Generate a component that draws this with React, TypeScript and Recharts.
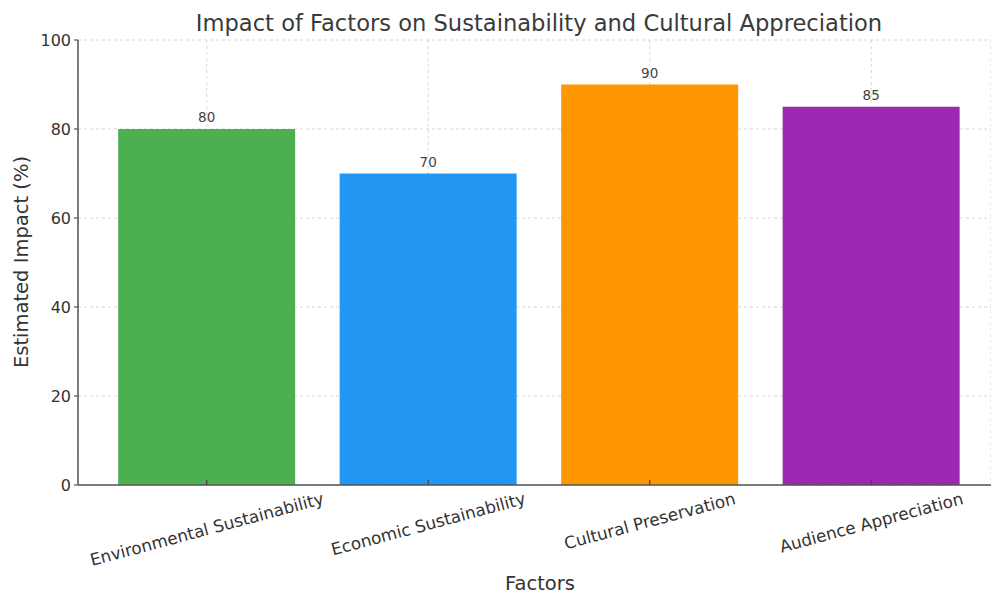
import { BarChart, Bar, XAxis, YAxis, CartesianGrid, LabelList, Cell } from 'recharts';

const categories = [
  'Environmental Sustainability',
  'Economic Sustainability',
  'Cultural Preservation',
  'Audience Appreciation',
];
const impactValues = [80, 70, 90, 85];
const barColors = ['#4CAF50', '#2196F3', '#FF9800', '#9C27B0'];
const yTicks = [0, 20, 40, 60, 80, 100];

const FONT = '"DejaVu Sans", sans-serif';
const TEXT = '#333333';
const TICK_FONT_SIZE = 16.8;

const chartData = categories.map((name, i) => ({ name, value: impactValues[i] }));

let measureCtx: CanvasRenderingContext2D | null = null;
const measure = (text: string, size: number) => {
  if (!measureCtx) measureCtx = document.createElement('canvas').getContext('2d');
  if (!measureCtx) return text.length * size * 0.55;
  measureCtx.font = `${size}px "DejaVu Sans"`;
  return measureCtx.measureText(text).width;
};

// rotated category label, box top aligned just below the axis (like matplotlib)
const RotatedTick = (props: any) => {
  const { x, y, payload } = props;
  const angle = 15;
  const rad = (angle * Math.PI) / 180;
  const w = measure(payload.value, TICK_FONT_SIZE);
  const h = TICK_FONT_SIZE * 1.1;
  const halfH = (w * Math.sin(rad) + h * Math.cos(rad)) / 2;
  const cy = y + 4 + halfH;
  return (
    <g>
      <line x1={x} y1={y} x2={x} y2={y - 5} stroke="#444" strokeWidth={1.2} />
      <text
        x={x}
        y={cy}
        textAnchor="middle"
        dominantBaseline="central"
        transform={`rotate(-${angle}, ${x}, ${cy})`}
        fill={TEXT}
        fontSize={TICK_FONT_SIZE}
        fontFamily={FONT}
      >
        {payload.value}
      </text>
    </g>
  );
};

export default function App() {
  return (
    <div style={{ position: 'absolute', left: 0, top: 0, width: 991, height: 595, background: '#fff' }}>
      <BarChart
        width={991}
        height={595}
        data={chartData}
        margin={{ top: 40, right: 0, bottom: 0, left: 0 }}
        barCategoryGap="10%"
      >
        <XAxis
          dataKey="name"
          height={110}
          padding={{ left: 18, right: 9 }}
          tickSize={0}
          tickMargin={0}
          tickLine={false}
          axisLine={{ stroke: '#555', strokeWidth: 1.5 }}
          tick={<RotatedTick />}
          interval={0}
        />
        <YAxis
          width={78}
          domain={[0, 100]}
          ticks={yTicks}
          tickSize={4}
          tickMargin={3}
          axisLine={{ stroke: '#555', strokeWidth: 1.5 }}
          tickLine={{ stroke: '#555', strokeWidth: 1.2 }}
          tick={{ fill: TEXT, fontSize: 16, fontFamily: FONT }}
        />
        <Bar dataKey="value" isAnimationActive={false}>
          {chartData.map((d, i) => (
            <Cell key={d.name} fill={barColors[i]} />
          ))}
          <LabelList
            dataKey="value"
            position="top"
            offset={7}
            fill="#444"
            fontSize={13.5}
            fontFamily={FONT}
          />
        </Bar>
        <CartesianGrid stroke="#c8c8c8" strokeOpacity={0.75} strokeDasharray="3 3" />
      </BarChart>
      <svg
        width={991}
        height={595}
        style={{ position: 'absolute', left: 0, top: 0, pointerEvents: 'none' }}
      >
        <text x={539} y={31} textAnchor="middle" fill="#3a3a3a" fontSize={22.6} fontFamily={FONT}>
          Impact of Factors on Sustainability and Cultural Appreciation
        </text>
        <text x={540} y={590} textAnchor="middle" fill={TEXT} fontSize={19.5} fontFamily={FONT}>
          Factors
        </text>
        <text
          x={28}
          y={262}
          textAnchor="middle"
          transform="rotate(-90, 28, 262)"
          fill={TEXT}
          fontSize={19.5}
          fontFamily={FONT}
        >
          Estimated Impact (%)
        </text>
      </svg>
    </div>
  );
}
